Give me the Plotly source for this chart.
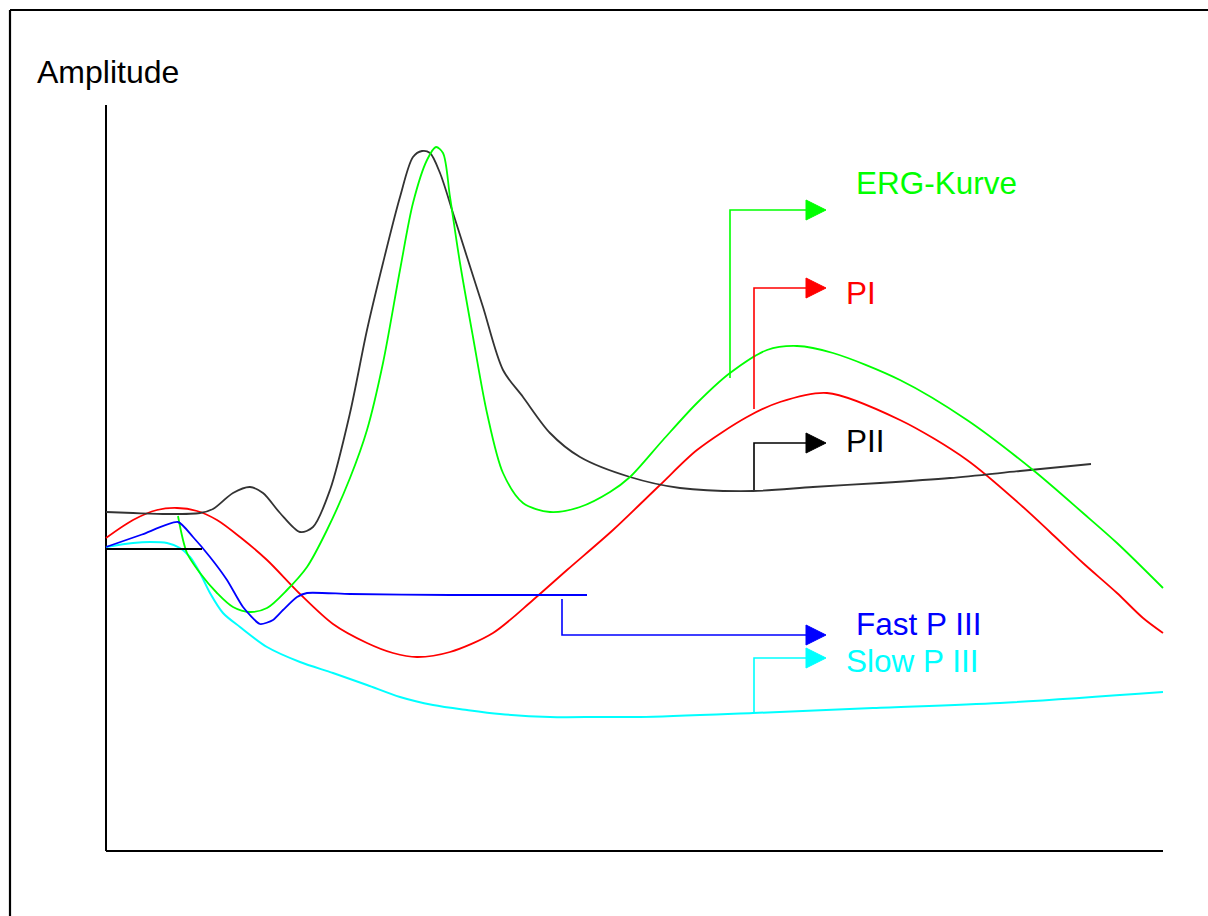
import plotly.graph_objects as go

# ---- curve data (diagram coordinates) ----
erg_x = [178, 187, 200, 217, 233, 250, 267, 287, 307, 327, 350, 367, 383, 400, 413, 427, 436, 443,
         450, 460, 473, 487, 503, 523, 550, 580, 610, 630, 663, 697, 730, 767, 797, 833, 900, 967,
         1033, 1083, 1117, 1163]
erg_y = [516, 553, 573, 593, 607, 612, 608, 590, 567, 530, 478, 430, 363, 270, 203, 160, 147, 153,
         197, 263, 337, 413, 473, 503, 512, 507, 492, 477, 440, 403, 373, 350, 346, 353, 380, 420,
         470, 513, 543, 588]

pi_x = [106, 133, 157, 177, 197, 217, 240, 267, 300, 333, 367, 393, 417, 450, 493, 533, 567, 613,
        660, 697, 747, 780, 827, 900, 967, 1023, 1050, 1083, 1117, 1143, 1163]
pi_y = [538, 520, 510, 508, 511, 520, 537, 560, 594, 624, 643, 653, 657, 652, 633, 600, 570, 530,
        485, 450, 417, 402, 393, 420, 460, 507, 532, 563, 593, 618, 633]

pii_x = [106, 133, 167, 200, 213, 233, 250, 263, 280, 300, 313, 330, 350, 367, 383, 400, 413, 422,
         430, 440, 453, 467, 483, 503, 523, 550, 580, 630, 680, 753, 813, 880, 950, 1020, 1091]
pii_y = [512, 513, 514, 513, 509, 493, 487, 493, 513, 532, 527, 490, 413, 330, 263, 197, 157, 151,
         153, 173, 213, 257, 307, 370, 397, 433, 457, 477, 488, 491, 487, 483, 478, 471, 464]

fast_x = [106, 142, 178, 193, 210, 227, 243, 260, 273, 283, 297, 307, 350, 450, 587]
fast_y = [547, 534.5, 522, 537, 557, 580, 607, 624, 620, 610, 597, 593, 594, 595, 595]

slow_x = [106, 133, 150, 167, 180, 190, 200, 210, 223, 240, 267, 300, 333, 367, 400, 433, 467, 500,
          550, 600, 640, 753, 873, 1000, 1163]
slow_y = [547, 543, 542, 543, 548, 557, 573, 593, 613, 627, 647, 662, 673, 685, 697, 705, 710, 714,
          717, 717, 717, 713, 708, 703, 692]

base_x = [106, 202]
base_y = [549, 549]

# ---- label connectors ----
labels = ["ERG-Kurve", "PI", "PII", "Fast P III", "Slow P III"]
label_colors = ["#00ff00", "#ff0000", "#000000", "#0000ff", "#00ffff"]
conn_x = [[730, 730, 807], [754, 754, 807], [754, 754, 807], [562, 562, 807], [754, 754, 807]]
conn_y = [[378, 210, 210], [409, 288, 288], [490, 443, 443], [599, 635, 635], [713, 658, 658]]
label_x = [854, 844, 844, 854, 844]
label_y = [183, 293, 441, 624, 661]

fig = go.Figure()

def curve(x, y, color, width=1.6, shape="spline", smoothing=0.85):
    fig.add_trace(go.Scatter(x=x, y=y, mode="lines",
                             line=dict(color=color, width=width, shape=shape, smoothing=smoothing),
                             hoverinfo="skip", showlegend=False))

curve(slow_x, slow_y, "#00ffff", 2)
curve(pi_x, pi_y, "#ff0000", 1.8)
curve(pii_x, pii_y, "#333333", 1.8)
curve(erg_x, erg_y, "#00ff00", 1.8)
curve(fast_x, fast_y, "#0000ff", 1.8, smoothing=0.6)
curve(base_x, base_y, "#000000", 2.2, "linear")

for cx, cy, col, lab, lx, ly in zip(conn_x, conn_y, label_colors, labels, label_x, label_y):
    fig.add_trace(go.Scatter(x=cx, y=cy, mode="lines", line=dict(color=col, width=1.6),
                             hoverinfo="skip", showlegend=False))
    tx0, ty0 = cx[-1] - 1, cy[-1]
    fig.add_trace(go.Scatter(x=[tx0, tx0 + 20, tx0, tx0], y=[ty0 - 10, ty0, ty0 + 10, ty0 - 10],
                             mode="lines", fill="toself", fillcolor=col,
                             line=dict(color=col, width=1), hoverinfo="skip", showlegend=False))
    fig.add_annotation(x=lx, y=ly, text=lab, showarrow=False, xanchor="left", yanchor="middle",
                       font=dict(family="Liberation Sans, Arial", size=31.5, color=col))

fig.add_annotation(x=35, y=72, text="Amplitude", showarrow=False, xanchor="left", yanchor="middle",
                   font=dict(family="Liberation Sans, Arial", size=32, color="#000000"))

# frame and axes
shapes = [
    dict(type="line", x0=10, x1=1208, y0=10, y1=10, line=dict(color="black", width=2.2)),
    dict(type="line", x0=10, x1=10, y0=10, y1=916, line=dict(color="black", width=2.2)),
    dict(type="line", x0=106, x1=106, y0=105, y1=851, line=dict(color="black", width=2)),
    dict(type="line", x0=106, x1=1163, y0=851, y1=851, line=dict(color="black", width=2)),
]
for s in shapes:
    s.update(xref="x", yref="y", layer="below")

fig.update_layout(
    width=1208, height=916,
    margin=dict(l=0, r=0, t=0, b=0),
    paper_bgcolor="white", plot_bgcolor="white",
    xaxis=dict(range=[0, 1208], visible=False, fixedrange=True),
    yaxis=dict(range=[916, 0], visible=False, fixedrange=True),
    shapes=shapes,
    showlegend=False,
)

fig.write_html("out.html", config={"displayModeBar": False},
               post_script="document.body.style.margin='0';document.body.style.overflow='hidden';")
